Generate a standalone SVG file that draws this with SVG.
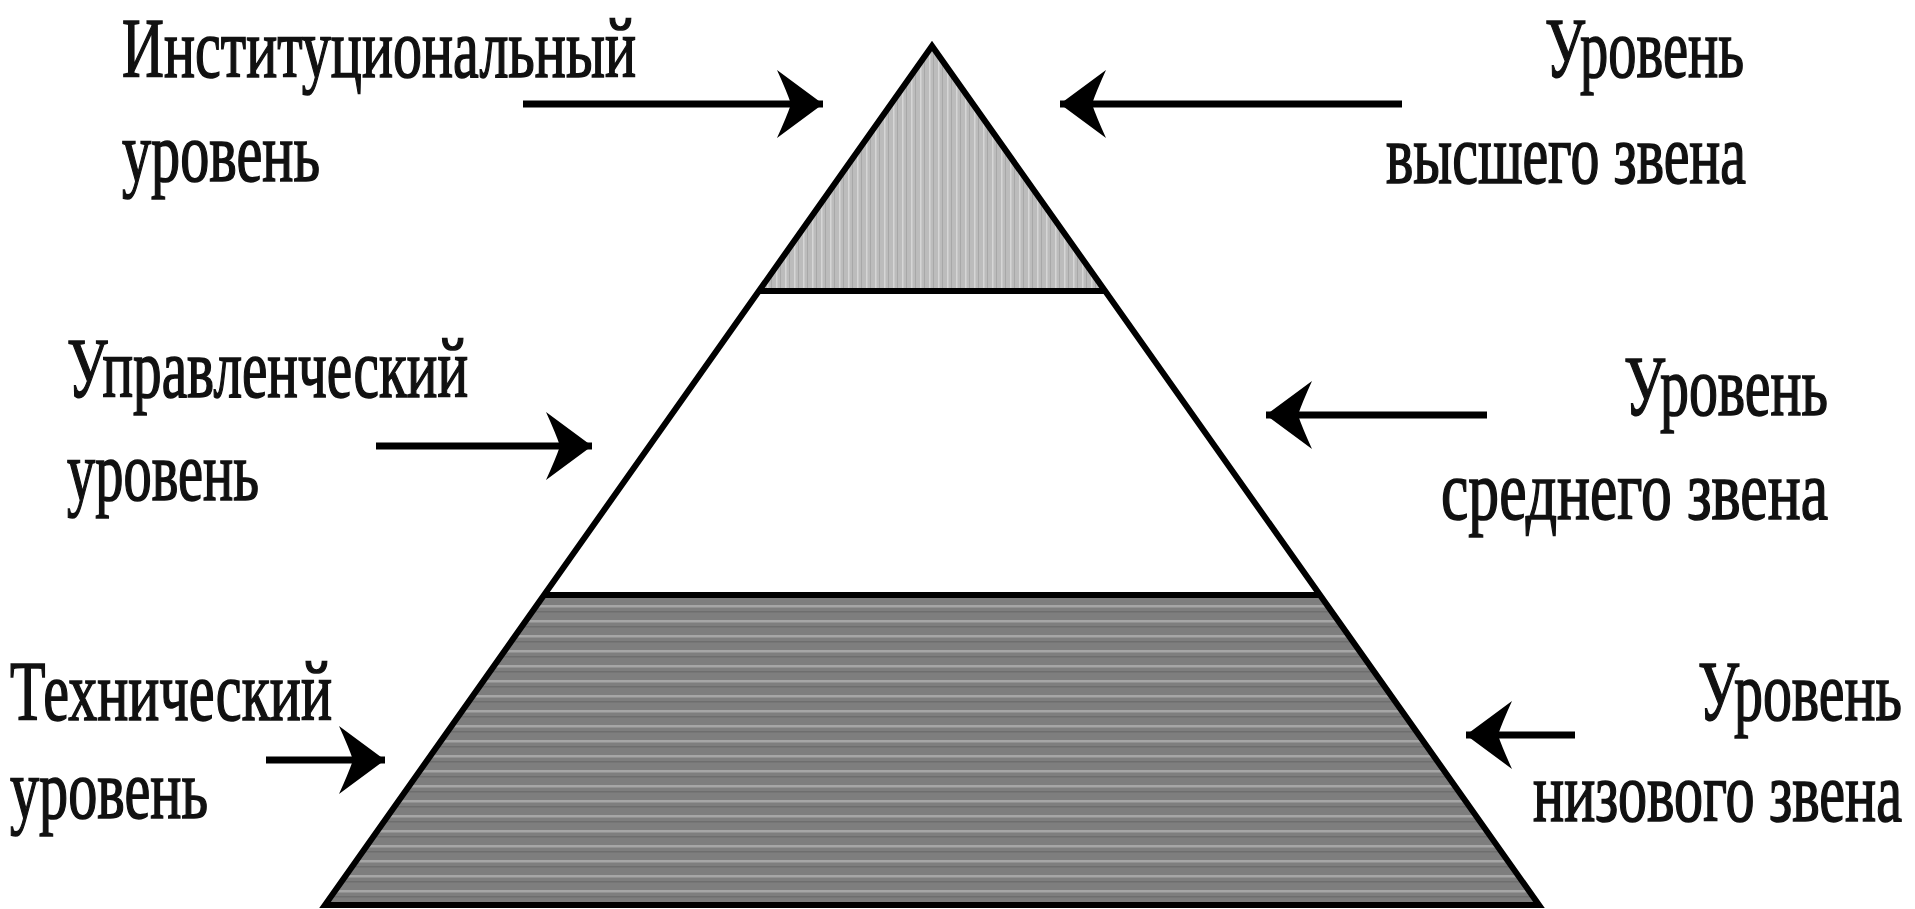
<svg xmlns="http://www.w3.org/2000/svg" width="1915" height="909" viewBox="0 0 1915 909">
<defs>
<style>
.lbl{font-family:"Liberation Serif","Times New Roman",serif;font-size:85px;fill:#111;stroke:#111;stroke-width:1.6}
.r{text-anchor:end}
.edge{stroke:#000;stroke-width:6;fill:none}
.arr{stroke:#000;stroke-width:7;fill:none;marker-end:url(#head)}
</style>
<marker id="head" markerUnits="userSpaceOnUse" markerWidth="60" markerHeight="80" viewBox="-50 -40 60 80" refX="0" refY="0" orient="auto">
<path d="M0,0 L-46,-34 Q-36,-12 -32,0 Q-36,12 -46,34 Z" fill="#000"/>
</marker>
<pattern id="vstripe" patternUnits="userSpaceOnUse" width="9" height="10">
<rect width="9" height="10" fill="#bcbcbc"/>
<rect x="2" width="1.5" height="10" fill="#d6d6d6"/>
<rect x="6" width="1" height="10" fill="#a8a8a8"/>
</pattern>
<pattern id="hstripe" patternUnits="userSpaceOnUse" width="10" height="15">
<rect width="10" height="15" fill="#7e7e7e"/>
<rect y="5" width="10" height="2.5" fill="#a6a6a6"/>
<rect y="11" width="10" height="1.5" fill="#6e6e6e"/>
</pattern>
</defs>
<rect width="1915" height="909" fill="#fff"/>
<g id="level-top">
<polygon points="932,46 759,291 1105,291" fill="url(#vstripe)"/>
<text class="lbl" transform="translate(122,77) scale(0.7,1)" textLength="734.3" lengthAdjust="spacingAndGlyphs">Институциональный</text>
<text class="lbl" transform="translate(122,181) scale(0.7,1)" textLength="282.9" lengthAdjust="spacingAndGlyphs">уровень</text>
<text class="lbl r" transform="translate(1744,77) scale(0.7,1)" textLength="284.3" lengthAdjust="spacingAndGlyphs">Уровень</text>
<text class="lbl r" transform="translate(1746,183) scale(0.7,1)" textLength="514.3" lengthAdjust="spacingAndGlyphs">высшего звена</text>
</g>
<g id="level-middle">
<polygon points="759,291 1105,291 1320,595 544,595" fill="#fff"/>
<text class="lbl" transform="translate(67,397) scale(0.7,1)" textLength="572.9" lengthAdjust="spacingAndGlyphs">Управленческий</text>
<text class="lbl" transform="translate(67,500) scale(0.7,1)" textLength="274.3" lengthAdjust="spacingAndGlyphs">уровень</text>
<text class="lbl r" transform="translate(1828,415) scale(0.7,1)" textLength="291.4" lengthAdjust="spacingAndGlyphs">Уровень</text>
<text class="lbl r" transform="translate(1828,519) scale(0.7,1)" textLength="552.9" lengthAdjust="spacingAndGlyphs">среднего звена</text>
</g>
<g id="level-bottom">
<polygon points="544,595 1320,595 1539,905 325,905" fill="url(#hstripe)"/>
<text class="lbl" transform="translate(10,720) scale(0.7,1)" textLength="460" lengthAdjust="spacingAndGlyphs">Технический</text>
<text class="lbl" transform="translate(10,818) scale(0.7,1)" textLength="282.9" lengthAdjust="spacingAndGlyphs">уровень</text>
<text class="lbl r" transform="translate(1902,720) scale(0.7,1)" textLength="291.4" lengthAdjust="spacingAndGlyphs">Уровень</text>
<text class="lbl r" transform="translate(1902,821) scale(0.7,1)" textLength="527.1" lengthAdjust="spacingAndGlyphs">низового звена</text>
</g>
<g id="pyramid-outline">
<polygon class="edge" points="932,46 325,905 1539,905" stroke-linejoin="miter"/>
<line class="edge" x1="759" y1="291" x2="1105" y2="291"/>
<line class="edge" x1="544" y1="595" x2="1320" y2="595"/>
</g>
<g id="connectors">
<line class="arr" x1="523" y1="104" x2="823" y2="104"/>
<line class="arr" x1="1402" y1="104" x2="1060" y2="104"/>
<line class="arr" x1="376" y1="446" x2="592" y2="446"/>
<line class="arr" x1="1487" y1="415" x2="1266" y2="415"/>
<line class="arr" x1="266" y1="760" x2="385" y2="760"/>
<line class="arr" x1="1575" y1="735" x2="1466" y2="735"/>
</g>
</svg>
